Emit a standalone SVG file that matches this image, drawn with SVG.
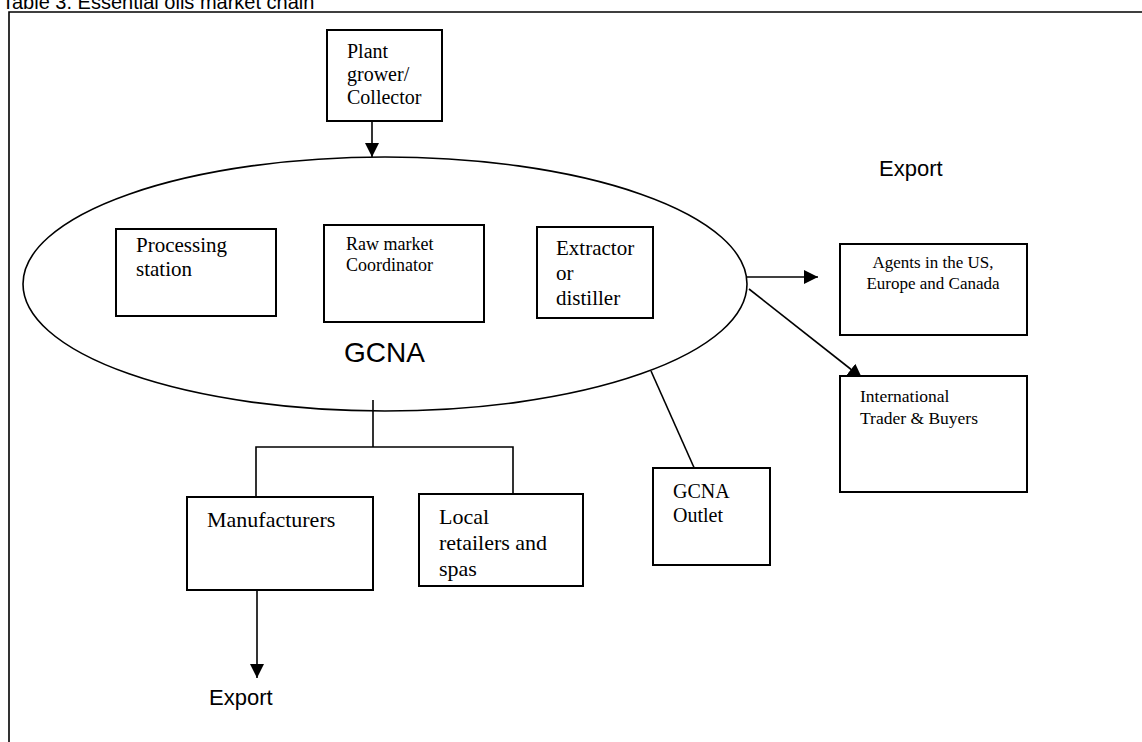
<svg xmlns="http://www.w3.org/2000/svg" width="1142" height="742" viewBox="0 0 1142 742">
<style>
.box{fill:#fff;stroke:#000;stroke-width:2}
.t{font-family:"Liberation Serif","Times New Roman",serif;fill:#000}
.a{font-family:"Liberation Sans",Arial,sans-serif;fill:#000}
.ln{fill:none;stroke:#000;stroke-width:1.6}
</style>
<defs>
<marker id="arr" markerUnits="userSpaceOnUse" markerWidth="15" markerHeight="14" refX="14" refY="7" orient="auto">
<path d="M0,0 L14,7 L0,14 z" fill="#000"/>
</marker>
</defs>
<rect width="1142" height="742" fill="#fff"/>
<text class="a" x="2" y="9" font-size="20">Table 3. Essential oils market chain</text>
<path class="ln" d="M9,742 V12 H1142" stroke-width="2"/>

<g id="connectors">
<line class="ln" x1="372" y1="121" x2="372" y2="157" marker-end="url(#arr)"/>
<line class="ln" x1="747" y1="277" x2="818" y2="277" marker-end="url(#arr)"/>
<line class="ln" x1="749" y1="289" x2="862" y2="378" marker-end="url(#arr)"/>
<line class="ln" x1="651" y1="371" x2="700" y2="481"/>
<path class="ln" d="M373,400 V447 M256,497 V447 H513 V494"/>
<line class="ln" x1="257" y1="590" x2="257" y2="678" marker-end="url(#arr)"/>
</g>

<g id="plant">
<rect class="box" x="327" y="30" width="115" height="91"/>
<text class="t" font-size="20" x="347" y="58">Plant</text>
<text class="t" font-size="20" x="347" y="81">grower/</text>
<text class="t" font-size="20" x="347" y="104">Collector</text>
</g>

<g id="gcna">
<ellipse cx="385" cy="284" rx="362" ry="127" fill="none" stroke="#000" stroke-width="1.6"/>
<text class="a" font-size="28" x="344" y="362">GCNA</text>
</g>

<g id="processing">
<rect class="box" x="116" y="229" width="160" height="87"/>
<text class="t" font-size="21" x="136" y="252">Processing</text>
<text class="t" font-size="21" x="136" y="276">station</text>
</g>

<g id="rawmarket">
<rect class="box" x="324" y="225" width="160" height="97"/>
<text class="t" font-size="18" x="346" y="250">Raw market</text>
<text class="t" font-size="18" x="346" y="271">Coordinator</text>
</g>

<g id="extractor">
<rect class="box" x="537" y="227" width="116" height="91"/>
<text class="t" font-size="21" x="556" y="255">Extractor</text>
<text class="t" font-size="21" x="556" y="280">or</text>
<text class="t" font-size="21" x="556" y="305">distiller</text>
</g>

<text class="a" font-size="22" x="879" y="176">Export</text>

<g id="agents">
<rect class="box" x="840" y="244" width="187" height="91"/>
<text class="t" font-size="17" x="933" y="268" text-anchor="middle">Agents in the US,</text>
<text class="t" font-size="17" x="933" y="289" text-anchor="middle">Europe and Canada</text>
</g>

<g id="international">
<rect class="box" x="840" y="376" width="187" height="116"/>
<text class="t" font-size="17.5" x="860" y="402">International</text>
<text class="t" font-size="17.5" x="860" y="424">Trader &amp; Buyers</text>
</g>

<g id="outlet">
<rect class="box" x="653" y="468" width="117" height="97"/>
<text class="t" font-size="20" x="673" y="498">GCNA</text>
<text class="t" font-size="20" x="673" y="522">Outlet</text>
</g>

<g id="manufacturers">
<rect class="box" x="187" y="497" width="186" height="93"/>
<text class="t" font-size="22" x="207" y="527">Manufacturers</text>
</g>

<g id="local">
<rect class="box" x="419" y="494" width="164" height="92"/>
<text class="t" font-size="22" x="439" y="524">Local</text>
<text class="t" font-size="22" x="439" y="550">retailers and</text>
<text class="t" font-size="22" x="439" y="576">spas</text>
</g>

<text class="a" font-size="22" x="209" y="705">Export</text>
</svg>
